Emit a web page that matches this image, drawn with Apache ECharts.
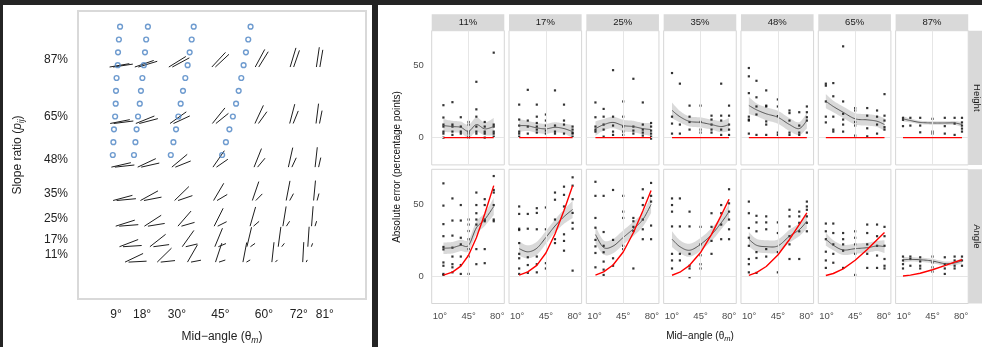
<!DOCTYPE html>
<html>
<head>
<meta charset="utf-8">
<script src="https://cdn.jsdelivr.net/npm/echarts@6/dist/echarts.min.js"></script>
<style>
  html, body { margin: 0; padding: 0; background: #242424; }
  #chart { width: 982px; height: 347px; }
</style>
</head>
<body>
<div id="chart"></div>
<script>
// ---------- design ----------
const ratioLabels = ['11%', '17%', '25%', '35%', '48%', '65%', '87%'];
const ratios = [11, 17, 25, 35, 48, 65, 87];
const midAngles = [9, 18, 30, 45, 60, 72, 81];
const rowLabels = ['Height', 'Angle'];

// mean of the two line angles for every (ratio, mid-angle) stimulus
const meanAngles = [
  [14.3, 25.3, 35.5, 45, 54.5, 64.7, 75.7],
  [12.4, 22.9, 33.9, 45, 56.1, 67.1, 77.6],
  [11.1, 21.1, 32.6, 45, 57.4, 68.9, 79.0],
  [10.2, 19.8, 31.6, 45, 58.4, 70.2, 79.8],
  [9.6, 18.9, 30.8, 45, 59.2, 71.1, 80.4],
  [9.2, 18.3, 30.3, 45, 59.7, 71.7, 80.8],
  [9.0, 18.0, 30.0, 45, 60.0, 72.0, 81.0]
];

// blue markers on the stimulus map
const circleRatios = [100, 95, 90, 85, 80, 75, 70, 65, 60, 55, 50];
const circleAngles = [
  [10.4, 10.0, 9.7, 9.6, 9.2, 9.0, 8.9, 8.7, 8.3, 8.1, 7.9],
  [20.0, 19.4, 19.0, 18.6, 18.1, 17.6, 17.2, 16.6, 16.1, 15.7, 15.2],
  [35.8, 35.1, 34.4, 33.7, 32.9, 32.1, 31.3, 30.5, 29.7, 28.8, 27.9],
  [55.4, 54.6, 53.8, 53.0, 52.2, 51.3, 50.4, 49.3, 48.1, 46.9, 45.6]
];

// ---------- absolute errors, Height judgements ----------
const heightDots = [
  [[22.6,14,9.1,7.7,4.2,2.8,0],[24.7,9.1,7.7,4.2,1.9],[14.2,7.7,4.2,2.8],[10.9,9.1,4.2,2.8,0.7,0],[38.9,19.7,14.6,7.7,4.2,2.8],[10.9,7.7,4.2,2.8,0],[59.2,9.1,7.7,4.2,2.8,0.7]],
  [[23,12.6,8.4,4.2,2.8,0.7],[33.3,11.9,7.7,2.8],[23,14.6,10.2,7.7,5.6,3.5],[16.1,11.9,8.4,4.9,2.8],[32.9,8.4,4.2,2.8],[23,11.9,9.1,2.8],[7.7,5.6,3.5,2.8,0.7]],
  [[24.5,14.2,7.7,5.6,4.2],[20,14.6,9.1,5.6,0.7],[47,14.6,8.4,4.2,1.9],[25.2,14.6,7.7,4.2,1.9],[41,7.7,4.9,2.8],[24.5,9.1,5.6,3.5,1.4],[10.2,7.7,4.9,2.8,0.7,-0.7]],
  [[45,14.6,9.8,2.8],[37.6,9.1,2.8],[22.3,14.6,10.9,5.6],[22.3,10.9,5.6,3.5],[15.3,12.6,9.1,5.6,3.5],[37.6,15.3,11.9,5.6,1.9],[22.3,15.3,9.1,5.6,1.9]],
  [[48.5,42.7,31,14.6,12.6,11.9,2.8],[39.6,28.1,21.7,16.1,1.9],[32.9,22.3,21.7,11.3,9.1,1.9],[26.6,21.7,15,3.5,1.9],[18.9,17.1,11.9,3.5,1.9],[17.7,8.4,3.5,1.9],[21.7,17.7,14.2,11.9,3.5]],
  [[37.6,36.2,25.2,14.6,10.6],[38,28.8,14.6,5.6,4.2],[63.6,25.2,16.6,12.6,9.1,4.2],[20.6,18.9,10.9,8.4,1.4],[20.6,15.3,6.5,0.9],[18.9,14.6,9.1,2.8],[30.3,15.3,11.9,7.3,5.6]],
  [[13.8,12.4,8],[13.8,8.4],[13.8,8.4,3.7],[13.1,4.2,2.8],[13.8,8,2.8],[13.8,9.8,1.9],[13.8,10.6,8.4,6.3,4.2]]
];
const heightFit = [
  [8.4, 7.7, 7.2, 4.4, 9.1, 6.1, 7.7],
  [8.4, 8.2, 6.8, 6.1, 7.2, 6.3, 4.2],
  [6.3, 9.0, 10.6, 8.4, 7.7, 6.3, 5.6],
  [19.0, 14.6, 11.3, 10.6, 9.1, 7.7, 9.1],
  [22.4, 19.4, 16.6, 14.2, 9.1, 6.3, 11.9],
  [25.4, 21.7, 17.7, 13.1, 12.4, 11.4, 9.1],
  [13.1, 11.9, 10.6, 10.2, 10.2, 10.2, 9.1]
];
const heightBand = [
  [4.5, 4, 4, 4.5, 5, 4.5, 6],
  [4.5, 3.5, 3.5, 3.5, 3.5, 3.5, 4.5],
  [5, 4, 4, 4, 4, 4, 4.5],
  [5.5, 4, 3.5, 3.5, 3.5, 4, 4.5],
  [6, 4.5, 4.5, 4.5, 4.5, 4.5, 5.5],
  [5, 4, 4, 4, 4, 4, 4.5],
  [1.8, 1.3, 1.2, 1.2, 1.2, 1.3, 1.8]
];
const heightModel = [0, 0, 0, 0, 0, 0, 0];

// ---------- absolute errors, Angle judgements ----------
const angleDots = [
  [[64.7,49.2,36.3,27.9,20.4,18.7,9.6,7.3,1.6,0.9],[54.2,38.8,28.3,19.9,13.7,8.4,6.2,2.7],[49.6,38.8,26.8,22.2,13.7,7.8,1.6],[39.5,36,31.5,25.8,18.9,13.7,1.6],[58.3,49.6,43.9,39.5,36,18.9,8.4],[53.7,49.6,39.5,38.3,18.9,9.1],[69.8,60.1,58.3,49.6,39.5,38.3]],
  [[48.6,43.4,33.1,32.2,23.1,15.6,12.5,5.4,1.6],[43.4,33.1,13.2,7.8,2.3],[47.4,44.1,32.7,13.7,8.4,2.7],[47.9,32.7,9.1,5.4],[58.3,53.3,39.5,25.8,23.1],[62.4,56.7,48.6,29.2,24.6,17.8],[68.9,63.1,53.7,44.1,37.2,33.1,3.9]],
  [[65.8,56,40.6,33.8,25.3,20.8,16.2,6.2],[56,30.8,21.2,16.7,10.2,4.6,0.9],[60.1,25.3,12.5,7.3],[56,45,40.6,21.2,18.9],[40.6,38.3,34.4,31.5,5.4],[60.6,54.6,49.6,39.5,32.7,25.8],[65,56,52,35.3,25.8]],
  [[54.2,49.6,45,34.7,15.6,11,5.4],[54.2,34.7,15.6,11],[45,34.7,15.6,7.3,5.4,-0.7],[34.4,22.2,14.6,8.4,5.4],[43.9,34.4,24.6,15.6],[49.6,43.9,36,25.8],[60.6,50.8,45,39.5,32.7,25.8]],
  [[52,43.9,33.6,26.8,21.2,12,8.4,2.7],[42.1,37.5,31.3,16.8,12.7,2.3],[41.7,37.5,32.7,18.9,13.7],[37.5,30.1,16.8,2.7],[46.3,41.7,34.7,27.9,22.2,12],[45,41.7,37.2,31.3,12],[52,48.6,46.3,41.7,37.2,31.3]],
  [[36.7,31.3,25.8,17.1,11,5.8],[36.7,30.1,22.2,15.6,9.4],[30.1,25.8,22.2,17.8,5.8],[31.3,26.8,22.2,15.6,0.9],[36,30.1,22.2,15.6,5.8],[36,27.9,21.2,14.4,5.8],[34.4,27.9,21.2,12,7.3,5.4]],
  [[13.7,11,8.4,5.4],[13.7,12,7.3],[13.2,10.3,7.3,5.4],[13.7,9.6,6.2,3.2],[13.2,8.4,5.4,1.6],[13.7,11,7.3,5.4],[13.7,11,7.3]]
];
const angleFit = [
  [19.5, 19.9, 21.5, 21.5, 33.7, 39.5, 48.6],
  [19.2, 17.0, 19.5, 27.0, 35.0, 41.5, 46.5],
  [29.0, 20.0, 21.0, 27.0, 33.0, 39.5, 50.0],
  [25.8, 20.6, 18.1, 22.2, 29.0, 37.2, 45.0],
  [25.8, 21.6, 20.6, 21.1, 27.9, 32.4, 38.3],
  [25.8, 21.6, 18.3, 19.2, 19.9, 21.1, 20.6],
  [11.5, 11.7, 11.5, 10.6, 8.8, 9.2, 10.8]
];
const angleBand = [
  [4, 4, 4, 4, 4.5, 4.5, 6],
  [5, 4.5, 4.5, 4.5, 4.5, 5, 6],
  [6, 5, 5, 5, 5, 5, 6],
  [5.5, 4.5, 4.5, 4.5, 4.5, 4.5, 5.5],
  [5, 4.5, 4.5, 4.5, 4.5, 4.5, 5],
  [4.5, 3.5, 3.5, 3.5, 3.5, 3.5, 4.5],
  [2, 1.5, 1.5, 1.5, 1.5, 1.5, 2]
];
// error expected when the angle ratio is reported instead of the slope ratio
const angleModel = [
  [0.8, 2.9, 7.0, 14.6, 26.8, 43.4, 63.1],
  [0.8, 3.0, 7.6, 16.2, 29.4, 45.8, 63.0],
  [0.8, 3.0, 7.8, 16.9, 30.3, 45.5, 59.7],
  [0.7, 2.8, 7.6, 16.5, 29.2, 42.4, 53.6],
  [0.6, 2.5, 6.8, 14.8, 25.6, 35.9, 44.1],
  [0.5, 1.9, 5.1, 11.1, 18.6, 25.4, 30.4],
  [0.2, 0.8, 2.1, 4.5, 7.4, 9.8, 11.5]
];

// ---------- layout ----------
const FONT = 'Liberation Sans, Arial, Helvetica, sans-serif';
const LEFT_PLOT = { left: 78, top: 11, width: 288, height: 288 };
const PANEL_LEFT0 = 431.7, PANEL_STEP = 77.32, PANEL_W = 72.6;
const ROW_TOP = [30.7, 169.3], ROW_H = 134.2;
const STRIP = 16.4;
const GLYPH_LEN = 20, GLYPH_GAP = 3.5, GLYPH_DROP = 7, GLYPH_SPREAD = 0.95;

// Catmull-Rom resampling of pixel points, used for the smoother and its band
function spline(pts, steps) {
  const out = [];
  for (let k = 0; k < pts.length - 1; k++) {
    const p0 = pts[Math.max(k - 1, 0)], p1 = pts[k], p2 = pts[k + 1], p3 = pts[Math.min(k + 2, pts.length - 1)];
    for (let s = 0; s < steps; s++) {
      const t = s / steps, t2 = t * t, t3 = t2 * t;
      const f = (a, b, c, d) => 0.5 * (2 * b + (-a + c) * t + (2 * a - 5 * b + 4 * c - d) * t2 + (-a + 3 * b - 3 * c + d) * t3);
      out.push([f(p0[0], p1[0], p2[0], p3[0]), f(p0[1], p1[1], p2[1], p3[1])]);
    }
  }
  out.push(pts[pts.length - 1]);
  return out;
}

const grids = [], xAxes = [], yAxes = [], series = [], graphics = [];

// panel backgrounds
graphics.push({ type: 'rect', z: -10, shape: { x: 3, y: 5, width: 369, height: 342 }, style: { fill: '#ffffff' } });
graphics.push({ type: 'rect', z: -10, shape: { x: 378, y: 5, width: 604, height: 342 }, style: { fill: '#ffffff' } });

// ---------- stimulus map ----------
grids.push(Object.assign({ show: true, borderColor: '#d9d9d9', borderWidth: 2, backgroundColor: '#fff' }, LEFT_PLOT));
xAxes.push({
  gridIndex: 0, type: 'value', min: -4.1, max: 95.2,
  axisLine: { show: false }, axisTick: { show: false }, splitLine: { show: false },
  axisLabel: { customValues: midAngles, formatter: v => v + '°', fontSize: 12, color: '#222', fontFamily: FONT, margin: 10 }
});
yAxes.push({
  gridIndex: 0, type: 'value', min: -6.1, max: 106.1,
  axisLine: { show: false }, axisTick: { show: false }, splitLine: { show: false },
  axisLabel: { customValues: ratios, formatter: v => v + '%', fontSize: 12, color: '#222', fontFamily: FONT, margin: 10 }
});

const glyphData = [];
ratios.forEach((p, i) => midAngles.forEach((m, j) => glyphData.push([meanAngles[i][j], p, m])));
series.push({
  type: 'custom', xAxisIndex: 0, yAxisIndex: 0, silent: true, z: 2,
  data: glyphData,
  renderItem(params, api) {
    const xm = 45 + (api.value(0) - 45) * GLYPH_SPREAD;
    const c = api.coord([xm, api.value(1)]);
    const t = Math.tan(api.value(2) * Math.PI / 180);
    const q = Math.sqrt(api.value(1) / 100);
    const s1 = t * q, s2 = t / q;               // the two slopes
    const run = GLYPH_LEN / Math.sqrt(1 + s2 * s2);
    const x0 = c[0] - (run + GLYPH_GAP) / 2, yb = c[1] + GLYPH_DROP;
    const st = { stroke: '#1e1e1e', lineWidth: 1 };
    return {
      type: 'group', children: [
        { type: 'line', shape: { x1: x0, y1: yb, x2: x0 + run, y2: yb - run * s2 }, style: st },
        { type: 'line', shape: { x1: x0 + GLYPH_GAP, y1: yb, x2: x0 + GLYPH_GAP + run, y2: yb - run * s1 }, style: st }
      ]
    };
  }
});
const circleData = [];
circleAngles.forEach(col => col.forEach((a, k) => circleData.push([a, circleRatios[k]])));
series.push({
  type: 'scatter', xAxisIndex: 0, yAxisIndex: 0, silent: true, z: 3,
  data: circleData, symbol: 'circle', symbolSize: 4.8,
  itemStyle: { color: 'rgba(255,255,255,0)', borderColor: '#4a82c3', borderWidth: 1.4 }
});

graphics.push({
  type: 'text', x: 18, y: 155, rotation: Math.PI / 2,
  style: {
    text: '{a|Slope ratio (}{b|p}{c|ij}{a|)}', align: 'center', verticalAlign: 'middle',
    rich: {
      a: { fontSize: 12, fontFamily: FONT, fill: '#222', lineHeight: 16 },
      b: { fontSize: 12, fontFamily: FONT, fill: '#222', fontStyle: 'italic', lineHeight: 16 },
      c: { fontSize: 8.5, fontFamily: FONT, fill: '#222', fontStyle: 'italic', verticalAlign: 'bottom', lineHeight: 16 }
    }
  }
});
graphics.push({
  type: 'text', x: 222, y: 337,
  style: {
    text: '{a|Mid−angle (θ}{c|m}{a|)}', align: 'center', verticalAlign: 'middle',
    rich: {
      a: { fontSize: 12, fontFamily: FONT, fill: '#222', lineHeight: 16 },
      c: { fontSize: 8.5, fontFamily: FONT, fill: '#222', fontStyle: 'italic', verticalAlign: 'bottom', lineHeight: 16 }
    }
  }
});

// ---------- error panels ----------
for (let r = 0; r < 2; r++) {
  for (let i = 0; i < 7; i++) {
    const g = grids.length;
    const left = PANEL_LEFT0 + i * PANEL_STEP;
    grids.push({ left, top: ROW_TOP[r], width: PANEL_W, height: ROW_H, show: true, borderColor: '#d6d6d6', borderWidth: 1, backgroundColor: '#fff' });
    xAxes.push({
      gridIndex: g, type: 'value', min: 0, max: 88.6,
      axisLine: { show: false }, axisTick: { show: false }, splitLine: { show: false },
      axisLabel: { show: r === 1, customValues: [10, 45, 80], formatter: v => v + '°', fontSize: 9.5, color: '#4d4d4d', fontFamily: FONT, margin: 8 }
    });
    yAxes.push({
      gridIndex: g, type: 'value', min: -19, max: 74.5,
      axisLine: { show: false }, axisTick: { show: false }, splitLine: { show: false },
      axisLabel: { show: i === 0, customValues: [0, 50], fontSize: 9.5, color: '#4d4d4d', fontFamily: FONT, margin: 8 }
    });

    const xs = meanAngles[i];
    const fit = r === 0 ? heightFit[i] : angleFit[i];
    const hw = r === 0 ? heightBand[i] : angleBand[i];
    const model = r === 0 ? heightModel : angleModel[i];
    const dots = r === 0 ? heightDots[i] : angleDots[i];
    const ax = { xAxisIndex: g, yAxisIndex: g, silent: true, animation: false };

    // reference lines at 0 and 45°
    series.push(Object.assign({
      type: 'line', z: 1, symbol: 'none', lineStyle: { opacity: 0 },
      data: xs.map((x, k) => [x, fit[k]]),
      markLine: {
        silent: true, symbol: 'none', label: { show: false },
        lineStyle: { color: '#e6e6e6', width: 1, type: 'solid' },
        data: [{ yAxis: 0 }, { xAxis: 45 }]
      }
    }, ax));
    // confidence band of the smoother
    series.push(Object.assign({
      type: 'custom', z: 2,
      data: xs.map((x, k) => [x, fit[k] - hw[k], fit[k] + hw[k]]),
      renderItem(params, api) {
        if (params.dataIndex !== 0) return null;
        const up = xs.map((x, k) => api.coord([x, fit[k] + hw[k]]));
        const lo = xs.map((x, k) => api.coord([x, fit[k] - hw[k]]));
        const pts = spline(up, 10).concat(spline(lo, 10).reverse());
        return { type: 'polygon', shape: { points: pts }, style: { fill: 'rgba(160,160,160,0.4)' } };
      }
    }, ax));
    const pts = [];
    dots.forEach((col, k) => col.forEach(v => pts.push([xs[k], v])));
    series.push(Object.assign({
      type: 'scatter', z: 3, symbol: 'rect', symbolSize: 2.2, itemStyle: { color: '#000' }, data: pts
    }, ax));
    // smoother
    series.push(Object.assign({
      type: 'custom', z: 4,
      data: xs.map((x, k) => [x, fit[k]]),
      renderItem(params, api) {
        if (params.dataIndex !== 0) return null;
        const line = xs.map((x, k) => api.coord([x, fit[k]]));
        return { type: 'polyline', shape: { points: spline(line, 10) }, style: { stroke: '#555', lineWidth: 1, fill: null } };
      }
    }, ax));
    series.push(Object.assign({
      type: 'line', z: 5, symbol: 'none',
      lineStyle: { color: '#ff0000', width: 1.4 },
      data: xs.map((x, k) => [x, model[k]])
    }, ax));

    if (r === 0) {
      graphics.push({ type: 'rect', shape: { x: left, y: ROW_TOP[0] - STRIP, width: PANEL_W, height: STRIP }, style: { fill: '#d9d9d9' } });
      graphics.push({ type: 'text', x: left + PANEL_W / 2, y: ROW_TOP[0] - STRIP / 2, style: { text: ratioLabels[i], align: 'center', verticalAlign: 'middle', fontSize: 9.5, fontFamily: FONT, fill: '#1a1a1a' } });
    }
  }
  const sx = PANEL_LEFT0 + 6 * PANEL_STEP + PANEL_W;
  graphics.push({ type: 'rect', shape: { x: sx, y: ROW_TOP[r], width: STRIP, height: ROW_H }, style: { fill: '#d9d9d9' } });
  graphics.push({ type: 'text', x: sx + STRIP / 2, y: ROW_TOP[r] + ROW_H / 2, rotation: -Math.PI / 2, style: { text: rowLabels[r], align: 'center', verticalAlign: 'middle', fontSize: 9.5, fontFamily: FONT, fill: '#1a1a1a' } });
}

graphics.push({
  type: 'text', x: 397.7, y: 167, rotation: Math.PI / 2,
  style: { text: 'Absolute error (percentage points)', align: 'center', verticalAlign: 'middle', fontSize: 10, fontFamily: FONT, fill: '#111' }
});
graphics.push({
  type: 'text', x: 700, y: 336,
  style: {
    text: '{a|Mid−angle (θ}{c|m}{a|)}', align: 'center', verticalAlign: 'middle',
    rich: {
      a: { fontSize: 10, fontFamily: FONT, fill: '#111', lineHeight: 14 },
      c: { fontSize: 7.5, fontFamily: FONT, fill: '#111', fontStyle: 'italic', verticalAlign: 'bottom', lineHeight: 14 }
    }
  }
});

const chart = echarts.init(document.getElementById('chart'), null, { renderer: 'canvas' });
chart.setOption({
  backgroundColor: '#242424',
  animation: false,
  grid: grids,
  xAxis: xAxes,
  yAxis: yAxes,
  series,
  graphic: { elements: graphics }
});
</script>
</body>
</html>
